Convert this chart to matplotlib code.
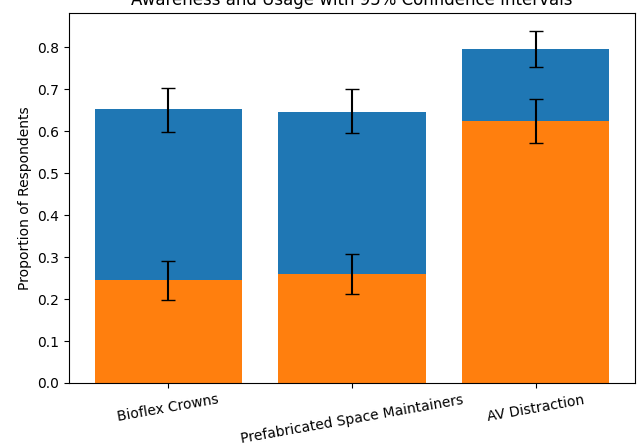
import matplotlib.pyplot as plt
import numpy as np

categories = ['Bioflex Crowns', 'Prefabricated Space Maintainers', 'AV Distraction']
awareness = [0.652, 0.646, 0.797]
aware_lo = [0.598, 0.596, 0.754]
aware_hi = [0.703, 0.700, 0.840]
usage = [0.246, 0.260, 0.625]
usage_lo = [0.197, 0.211, 0.571]
usage_hi = [0.291, 0.307, 0.678]

x = np.arange(len(categories))
aw = np.array(awareness)
us = np.array(usage)
aw_err = [aw - np.array(aware_lo), np.array(aware_hi) - aw]
us_err = [us - np.array(usage_lo), np.array(usage_hi) - us]

fig = plt.figure(figsize=(6.38, 4.44), dpi=100)
ax = fig.add_axes([69/638, 1 - 383/444, (635 - 69)/638, (383 - 13)/444])

ax.bar(x, aw, yerr=aw_err, capsize=5, color='#1f77b4', label='Awareness')
ax.bar(x, us, yerr=us_err, capsize=5, color='#ff7f0e', label='Usage')

ax.set_xticks(x)
ax.set_xticklabels(categories, rotation=10)
ax.set_ylabel('Proportion of Respondents')
ax.set_title('Awareness and Usage with 95% Confidence Intervals')

fig.savefig('out.png', dpi=100)
